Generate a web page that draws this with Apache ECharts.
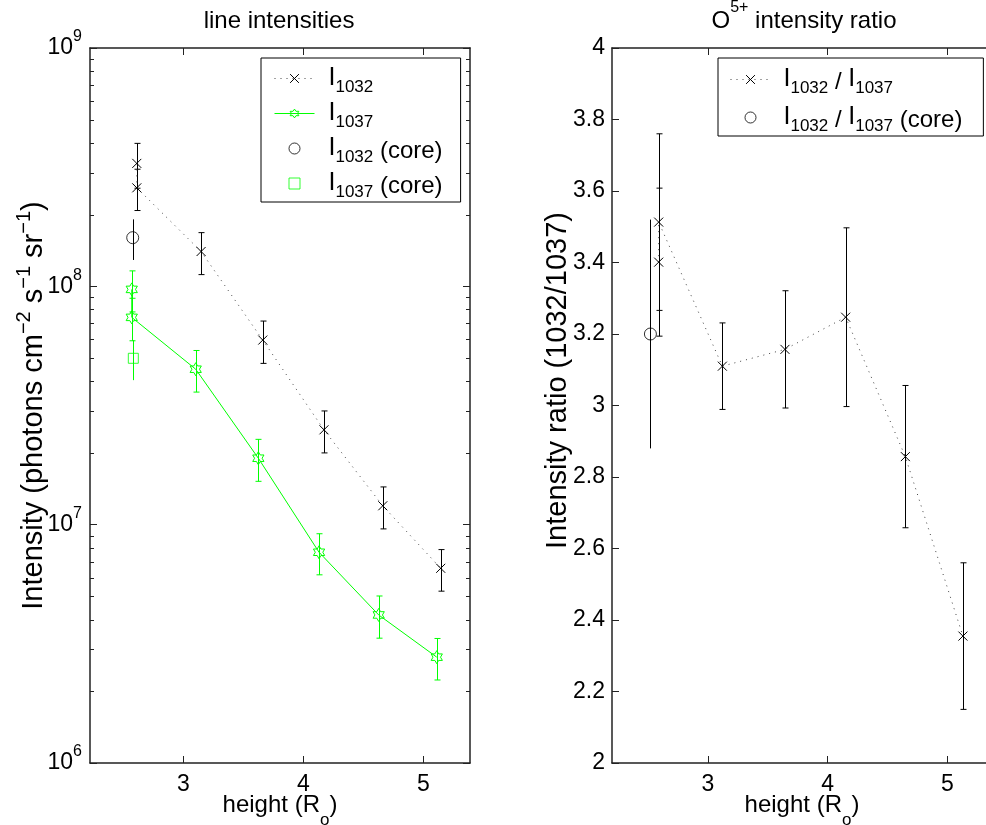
<!DOCTYPE html>
<html><head><meta charset="utf-8">
<script src="https://cdn.jsdelivr.net/npm/echarts@6/dist/echarts.min.js"></script>
<style>html,body{margin:0;padding:0;background:#fff}#c{width:986px;height:825px}</style>
</head><body><div id="c"></div>
<script>
// ---------- data ----------
const hBlack   = [2.612, 2.612, 3.148, 3.662, 4.172, 4.662, 5.145];
const i1032    = [3.28e8, 2.59e8, 1.40e8, 5.95e7, 2.50e7, 1.20e7, 6.56e6];
const i1032Err = [7.0e7, 5.1e7, 2.8e7, 1.2e7, 5.0e6, 2.4e6, 1.3e6];
const hGreen   = [2.570, 2.570, 3.103, 3.625, 4.131, 4.628, 5.112];
const i1037    = [9.71e7, 7.41e7, 4.49e7, 1.90e7, 7.66e6, 4.18e6, 2.78e6];
const i1037Err = [1.9e7, 1.5e7, 8.9e6, 3.8e6, 1.5e6, 8.4e5, 5.5e5];
const hCore1032 = [2.578];
const i1032Core = [1.60e8];
const i1032CoreErr = [3.1e7];
const hCore1037 = [2.583];
const i1037Core = [4.99e7];
const i1037CoreErr = [9.5e6];
const hRatio   = [2.588, 2.588, 3.120, 3.643, 4.150, 4.649, 5.130];
const ratio    = [3.401, 3.513, 3.110, 3.157, 3.247, 2.857, 2.355];
const ratioErr = [0.207, 0.247, 0.121, 0.164, 0.250, 0.199, 0.205];
const hRatioCore = [2.519];
const ratioCore  = [3.20];
const ratioCoreErr = [0.32];
const xTickVals = [3, 4, 5];
const xRangeL = [2.222, 5.389];
const xRangeR = [2.198, 5.373];
const yRangeL = [1e6, 1e9];
const yRangeR = [2, 4];

// ---------- styling ----------
const FONT = '"Liberation Sans", Arial, Helvetica, sans-serif';
const AX = '#222';
const GREEN = '#00ff00';
const X_PATH = 'path://M0,0L10,10M0,10L10,0';
const SQ_PATH = 'path://M0,0L10,0L10,10L0,10Z';
const HEX_PATH = 'path://M10,0L12.887,5L18.66,5L15.774,10L18.66,15L12.887,15L10,20L7.113,15L1.34,15L4.226,10L1.34,5L7.113,5Z';

function zip(a, b) { return a.map((v, k) => [v, b[k]]); }

function xAxisDef(grid, range, top) {
  return {
    type: 'value', gridIndex: grid, position: top ? 'top' : 'bottom',
    min: range[0], max: range[1],
    axisLine: { show: true, onZero: false, lineStyle: { color: AX, width: 1.5 } },
    axisTick: { show: true, inside: true, length: 7, customValues: xTickVals, lineStyle: { color: AX, width: 1 } },
    axisLabel: { show: !top, customValues: xTickVals, margin: 10, fontSize: 23, color: '#000', fontFamily: FONT },
    splitLine: { show: false },
    name: top ? '' : 'height (R{s|o})', nameLocation: 'middle', nameGap: 19, nameMoveOverlap: false,
    nameTextStyle: { fontSize: 24, lineHeight: 47, color: '#000', fontFamily: FONT,
      rich: { s: { fontSize: 17, fontFamily: FONT, color: '#000', lineHeight: 17, verticalAlign: 'bottom' } } }
  };
}

const yAxes = [
  { type: 'log', logBase: 10, gridIndex: 0, position: 'left', min: yRangeL[0], max: yRangeL[1],
    axisLine: { show: true, onZero: false, lineStyle: { color: AX, width: 1.5 } },
    axisTick: { show: true, inside: true, length: 7, lineStyle: { color: AX, width: 1 } },
    axisLabel: { margin: 8, fontSize: 23, lineHeight: 38, color: '#000', fontFamily: FONT,
      formatter: v => '10{s|' + Math.round(Math.log10(v)) + '}',
      rich: { s: { fontSize: 16, fontFamily: FONT, color: '#000', lineHeight: 16, verticalAlign: 'top' } } },
    splitLine: { show: false }, minorTick: { show: false },
    name: 'Intensity (photons cm{s|\u22122} s{s|\u22121} sr{s|\u22121})', nameLocation: 'middle', nameGap: 36, nameMoveOverlap: false,
    nameTextStyle: { fontSize: 29, lineHeight: 40, color: '#000', fontFamily: FONT,
      rich: { s: { fontSize: 20, fontFamily: FONT, color: '#000', lineHeight: 20, verticalAlign: 'top' } } }
  },
  { type: 'log', logBase: 10, gridIndex: 0, position: 'right', min: yRangeL[0], max: yRangeL[1],
    axisLine: { show: true, onZero: false, lineStyle: { color: AX, width: 1.5 } },
    axisTick: { show: true, inside: true, length: 7, lineStyle: { color: AX, width: 1 } },
    axisLabel: { show: false }, splitLine: { show: false } },
  { type: 'value', gridIndex: 1, position: 'left', min: yRangeR[0], max: yRangeR[1], interval: 0.2,
    axisLine: { show: true, onZero: false, lineStyle: { color: AX, width: 1.5 } },
    axisTick: { show: true, inside: true, length: 7, lineStyle: { color: AX, width: 1 } },
    axisLabel: { margin: 7, fontSize: 23, color: '#000', fontFamily: FONT },
    splitLine: { show: false },
    name: 'Intensity ratio (1032/1037)', nameLocation: 'middle', nameGap: 40, nameMoveOverlap: false,
    nameTextStyle: { fontSize: 29, lineHeight: 29, color: '#000', fontFamily: FONT, padding: [0, 0, 0, 50] }
  },
  { type: 'value', gridIndex: 1, position: 'right', min: yRangeR[0], max: yRangeR[1], interval: 0.2,
    axisLine: { show: true, onZero: false, lineStyle: { color: AX, width: 1.5 } },
    axisTick: { show: false },
    axisLabel: { show: false }, splitLine: { show: false } }
];

function errSeries(xs, ys, es, color, cap, xi, yi) {
  return {
    type: 'custom', xAxisIndex: xi, yAxisIndex: yi, silent: true, z: 2,
    data: xs.map((x, k) => [x, ys[k], es[k]]),
    encode: { x: 0, y: 1 },
    renderItem(params, api) {
      const x = api.value(0), y = api.value(1), e = api.value(2);
      const lo = api.coord([x, y - e]), hi = api.coord([x, y + e]);
      const px = Math.round(lo[0]) + 0.5;
      const st = { stroke: color, lineWidth: 1 };
      const ch = [{ type: 'line', shape: { x1: px, y1: lo[1], x2: px, y2: hi[1] }, style: st }];
      if (cap) {
        [lo[1], hi[1]].forEach(yy => ch.push({ type: 'line', shape: { x1: px - 3, y1: yy, x2: px + 3, y2: yy }, style: st }));
      }
      return { type: 'group', children: ch };
    }
  };
}

// minor ticks of the log axis (2..9 x each decade)
const minorVals = [];
for (let e = 6; e < 9; e++) for (let d = 2; d <= 9; d++) minorVals.push(d * Math.pow(10, e));
const minorTickSeries = {
  type: 'custom', xAxisIndex: 0, yAxisIndex: 0, silent: true, z: 1,
  data: minorVals.map(v => [xRangeL[0], v]),
  encode: { x: 0, y: 1 },
  renderItem(params, api) {
    const cs = params.coordSys;
    const y = Math.round(api.coord([api.value(0), api.value(1)])[1]) + 0.5;
    const st = { stroke: AX, lineWidth: 1 };
    return { type: 'group', children: [
      { type: 'line', shape: { x1: cs.x, y1: y, x2: cs.x + 4, y2: y }, style: st },
      { type: 'line', shape: { x1: cs.x + cs.width, y1: y, x2: cs.x + cs.width - 4, y2: y }, style: st }
    ] };
  }
};

function legendRich(startPad) {
  return {
    a: { fontSize: 25, fontFamily: FONT, color: '#000', padding: [0, 0, 0, startPad] },
    i: { fontSize: 25, fontFamily: FONT, color: '#000' },
    s: { fontSize: 17, lineHeight: 17, fontFamily: FONT, color: '#000', verticalAlign: 'bottom' },
    c: { fontSize: 24, lineHeight: 27, fontFamily: FONT, color: '#000', verticalAlign: 'bottom', padding: [0, 0, 3, 0] }
  };
}

const leftLegendNames = ['I1032', 'I1037', 'I1032 (core)', 'I1037 (core)'];
const rightLegendNames = ['I1032/I1037', 'I1032/I1037 (core)'];
const legendCommon = {
  orient: 'vertical', selectedMode: false, itemWidth: 40, itemHeight: 11,
  borderColor: '#000', borderWidth: 1, backgroundColor: '#fff',
  itemStyle: { borderWidth: 1 }, lineStyle: { width: 1 }
};

const option = {
  animation: false,
  backgroundColor: '#fff',
  grid: [
    { left: 90, top: 48, width: 380, height: 715, outerBoundsMode: 'none', containLabel: false },
    { left: 612, top: 48, width: 380, height: 715, outerBoundsMode: 'none', containLabel: false }
  ],
  xAxis: [xAxisDef(0, xRangeL, false), xAxisDef(0, xRangeL, true), xAxisDef(1, xRangeR, false), xAxisDef(1, xRangeR, true)],
  yAxis: yAxes,
  graphic: [
    { type: 'text', x: 279, y: 21, silent: true,
      style: { text: 'line intensities', fontSize: 24, fontFamily: FONT, fill: '#000', align: 'center', verticalAlign: 'middle' } },
    { type: 'text', x: 804, y: 21, silent: true,
      style: { text: 'O{s|5+} intensity ratio', fontSize: 24, lineHeight: 42, fontFamily: FONT, fill: '#000', align: 'center', verticalAlign: 'middle',
        rich: { s: { fontSize: 16, lineHeight: 16, fontFamily: FONT, fill: '#000', verticalAlign: 'top' } } } }
  ],
  legend: [
    Object.assign({}, legendCommon, {
      data: leftLegendNames, left: 261, top: 58, itemGap: 0,
      padding: [3, 18, 1, 13],
      formatter: name => ({
        'I1032': '{a|I}{s|1032}',
        'I1037': '{a|I}{s|1037}',
        'I1032 (core)': '{a|I}{s|1032}{c| (core)}',
        'I1037 (core)': '{a|I}{s|1037}{c| (core)}'
      })[name],
      textStyle: { fontSize: 24, lineHeight: 35, fontFamily: FONT, color: '#000', rich: legendRich(9) } }),
    Object.assign({}, legendCommon, {
      data: rightLegendNames, left: 718, top: 58, itemGap: 3,
      padding: [4, 21, 1, 12],
      formatter: name => ({
        'I1032/I1037': '{a|I}{s|1032}{c| / }{i|I}{s|1037}',
        'I1032/I1037 (core)': '{a|I}{s|1032}{c| / }{i|I}{s|1037}{c| (core)}'
      })[name],
      textStyle: { fontSize: 24, lineHeight: 35, fontFamily: FONT, color: '#000', rich: legendRich(8) } })
  ],
  series: [
    minorTickSeries,
    errSeries(hBlack, i1032, i1032Err, '#000', true, 0, 0),
    { name: 'I1032', type: 'line', xAxisIndex: 0, yAxisIndex: 0, z: 3,
      data: zip(hBlack, i1032), symbol: X_PATH, symbolSize: 9, showAllSymbol: true,
      itemStyle: { color: 'transparent', borderColor: '#000', borderWidth: 1 },
      lineStyle: { color: '#444', width: 1, type: [1, 5] } },
    errSeries(hGreen, i1037, i1037Err, GREEN, true, 0, 0),
    { name: 'I1037', type: 'line', xAxisIndex: 0, yAxisIndex: 0, z: 3,
      data: zip(hGreen, i1037), symbol: HEX_PATH, symbolSize: 13, symbolKeepAspect: true, showAllSymbol: true,
      itemStyle: { color: 'transparent', borderColor: GREEN, borderWidth: 1 },
      lineStyle: { color: GREEN, width: 1 } },
    errSeries(hCore1032, i1032Core, i1032CoreErr, '#000', false, 0, 0),
    { name: 'I1032 (core)', type: 'scatter', xAxisIndex: 0, yAxisIndex: 0, z: 3,
      data: zip(hCore1032, i1032Core), symbol: 'circle', symbolSize: 12,
      itemStyle: { color: 'transparent', borderColor: '#000', borderWidth: 1 } },
    errSeries(hCore1037, i1037Core, i1037CoreErr, GREEN, false, 0, 0),
    { name: 'I1037 (core)', type: 'scatter', xAxisIndex: 0, yAxisIndex: 0, z: 3,
      data: zip(hCore1037, i1037Core), symbol: SQ_PATH, symbolSize: 10, symbolKeepAspect: true,
      itemStyle: { color: 'transparent', borderColor: GREEN, borderWidth: 1 } },

    errSeries(hRatio, ratio, ratioErr, '#000', true, 2, 2),
    { name: 'I1032/I1037', type: 'line', xAxisIndex: 2, yAxisIndex: 2, z: 3,
      data: zip(hRatio, ratio), symbol: X_PATH, symbolSize: 9, showAllSymbol: true,
      itemStyle: { color: 'transparent', borderColor: '#000', borderWidth: 1 },
      lineStyle: { color: '#444', width: 1, type: [1, 5] } },
    errSeries(hRatioCore, ratioCore, ratioCoreErr, '#000', false, 2, 2),
    { name: 'I1032/I1037 (core)', type: 'scatter', xAxisIndex: 2, yAxisIndex: 2, z: 3,
      data: zip(hRatioCore, ratioCore), symbol: 'circle', symbolSize: 12,
      itemStyle: { color: 'transparent', borderColor: '#000', borderWidth: 1 } }
  ]
};

const chart = echarts.init(document.getElementById('c'), null, { renderer: 'canvas' });
chart.setOption(option);
</script></body></html>
